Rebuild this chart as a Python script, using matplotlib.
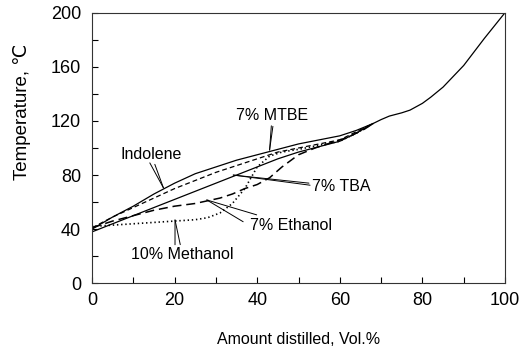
import matplotlib
matplotlib.use("Agg")
import matplotlib.pyplot as plt
from matplotlib.ticker import MultipleLocator

plt.rcParams['font.family'] = ['Liberation Sans', 'DejaVu Sans']
plt.rcParams['lines.scale_dashes'] = False

# Data
indolene_x = [0, 5, 10, 15, 20, 25, 30, 35, 40, 45, 50, 55, 60, 64, 68]
indolene_t = [40, 49, 57, 66, 74, 81, 86, 91, 95, 99, 103, 106, 109, 113, 118]

tba_x = [0, 10, 20, 30, 35, 40, 45, 50, 55, 60, 64, 68]
tba_t = [38, 50, 62, 74, 80, 86, 92, 97, 101, 105, 111, 118]

mtbe_x = [0, 5, 10, 15, 20, 25, 30, 35, 40, 45, 50, 55, 60, 64, 68]
mtbe_t = [41, 49, 56, 63, 70, 76, 82, 87, 92, 97, 100, 103, 106, 112, 118]

ethanol_x = [0, 5, 10, 15, 20, 25, 28, 31, 34, 37, 40, 43, 46, 50, 54, 58, 62, 66, 68]
ethanol_t = [41, 46, 50, 54, 57, 59, 61, 63, 66, 70, 73, 78, 86, 95, 100, 104, 108, 114, 118]

methanol_x = [0, 5, 10, 15, 20, 25, 28, 31, 34, 37, 40, 43, 46, 50, 55, 60, 64, 68]
methanol_t = [42, 43, 44, 45, 46, 47, 48.5, 52, 59, 70, 86, 94, 97, 99, 102, 105, 111, 118]

tail_x = [68, 70, 72, 75, 77, 80, 82, 85, 90, 95, 100]
tail_t = [118, 121, 123.6, 126, 128, 133, 137.5, 145, 161, 181, 200]

fig = plt.figure(figsize=(5.29, 3.55), dpi=100)
ax = fig.add_axes([92/529, 1-283.3/355, 413/529, 270.6/355])

lw = 0.9
ax.plot(indolene_x, indolene_t, color='black', lw=lw)
ax.plot(tba_x, tba_t, color='black', lw=lw)
ax.plot(mtbe_x, mtbe_t, color='black', lw=lw, linestyle=(0, (3.5, 2.2)))
ax.plot(ethanol_x, ethanol_t, color='black', lw=1.1, linestyle=(0, (6.5, 3.5)))
ax.plot(methanol_x, methanol_t, color='black', lw=1.2, linestyle=(0, (1.0, 2.0)))
ax.plot(tail_x, tail_t, color='black', lw=lw)

ax.set_xlim(0, 100)
ax.set_ylim(0, 200)
ax.xaxis.set_major_locator(MultipleLocator(20))
ax.xaxis.set_minor_locator(MultipleLocator(10))
ax.yaxis.set_major_locator(MultipleLocator(40))
ax.yaxis.set_minor_locator(MultipleLocator(20))
ax.tick_params(which='both', direction='in', top=False, right=False, width=0.8)
ax.tick_params(which='major', length=4.5)
ax.tick_params(which='minor', length=4)
ax.tick_params(axis='y', labelsize=13, pad=8)
ax.tick_params(axis='x', labelsize=13, pad=6)
for s in ax.spines.values():
    s.set_linewidth(0.8)
    s.set_color('#333333')

ax.set_xlabel('Amount distilled, Vol.%', fontsize=11.5, labelpad=17)
ax.set_ylabel('Temperature, ℃', fontsize=13.5)
ax.yaxis.set_label_coords(-0.148, 0.633)

fs = 11.5
akw = dict(arrowprops=dict(arrowstyle='-', color='black', lw=0.7, shrinkA=0, shrinkB=0),
           fontsize=fs)
ax.annotate('Indolene', xy=(17.3, 70.5), xytext=(14.3, 95.5), ha='center', va='center', **akw)
ax.annotate('', xy=(17.3, 70.5), xytext=(14, 89), **akw)
ax.annotate('7% MTBE', xy=(43, 98.5), xytext=(43.6, 124), ha='center', va='center', **akw)
ax.annotate('', xy=(43, 98.5), xytext=(43.8, 116), **akw)
ax.annotate('7% TBA', xy=(34.2, 80), xytext=(53.2, 71.5), ha='left', va='center', **akw)
ax.annotate('', xy=(34.2, 80), xytext=(52.8, 72.5), **akw)
ax.annotate('7% Ethanol', xy=(27.8, 61.6), xytext=(48.2, 43), ha='center', va='center', **akw)
ax.annotate('', xy=(27.8, 61.6), xytext=(36.6, 45.5), **akw)
ax.annotate('10% Methanol', xy=(20.1, 46.8), xytext=(21.9, 21), ha='center', va='center', **akw)
ax.annotate('', xy=(20.1, 46.8), xytext=(20.1, 28.5), **akw)

fig.savefig('out.png', dpi=100)
